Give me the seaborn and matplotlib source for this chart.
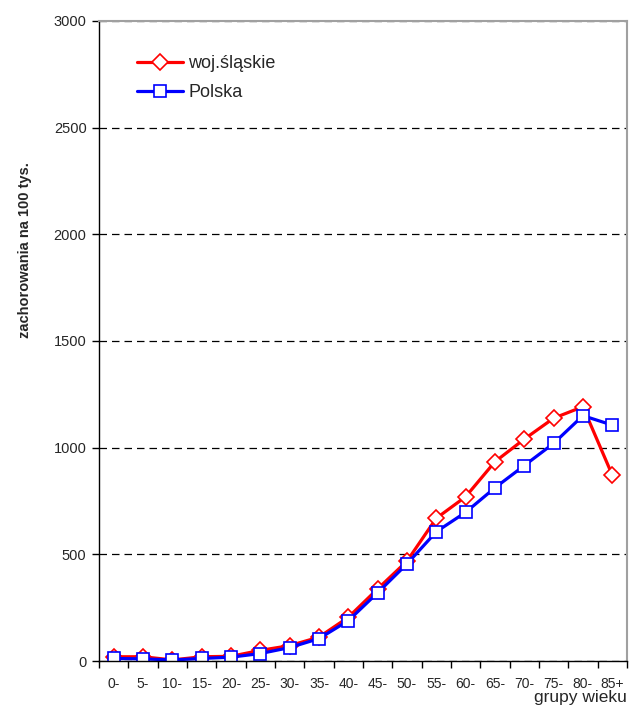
import numpy as np
import pandas as pd
import seaborn as sns
import matplotlib.pyplot as plt
from matplotlib.ticker import FixedLocator

# age groups and incidence per 100k
age_groups = ['0-', '5-', '10-', '15-', '20-', '25-', '30-', '35-', '40-', '45-',
              '50-', '55-', '60-', '65-', '70-', '75-', '80-', '85+']
slaskie = [20, 20, 5, 20, 22, 50, 72, 112, 205, 338, 468, 669, 770, 934, 1040, 1138, 1192, 872]
polska = [12, 10, 5, 12, 18, 35, 63, 105, 189, 320, 455, 606, 697, 812, 916, 1020, 1150, 1106]

sns.set_style('white')
plt.rcParams['font.family'] = ['Liberation Sans', 'DejaVu Sans']

df = pd.DataFrame({'grupa': age_groups, 'slaskie': slaskie, 'polska': polska})

fig = plt.figure(figsize=(6.41, 7.11), dpi=100)
ax = fig.add_axes([0.1545, 0.0703, 0.8235, 0.9002])

sns.lineplot(data=df, x='grupa', y='slaskie', ax=ax, color='#ff0000', lw=2.3,
             marker='D', markersize=8, markerfacecolor='white',
             markeredgecolor='#ff0000', markeredgewidth=1.2, label='woj.śląskie',
             sort=False)
sns.lineplot(data=df, x='grupa', y='polska', ax=ax, color='#0000ff', lw=2.3,
             marker='s', markersize=9, markerfacecolor='white',
             markeredgecolor='#0000ff', markeredgewidth=1.2, label='Polska',
             sort=False)

ax.set_xlim(-0.5, len(age_groups) - 0.5)
ax.set_ylim(0, 3000)
ax.set_yticks(np.arange(0, 3001, 500))
ax.yaxis.grid(True, color='black', linestyle=(0, (6, 4)), lw=0.9)
ax.xaxis.grid(False)

# ticks on category boundaries, labels in centre
ax.set_xticks(range(len(age_groups)))
ax.set_xticklabels(age_groups, fontsize=10)
ax.xaxis.set_minor_locator(FixedLocator(np.arange(-0.5, len(age_groups), 1)))
ax.tick_params(axis='x', which='major', length=0, pad=11.5)
ax.tick_params(axis='x', which='minor', length=5, width=1, color='black', direction='out', bottom=True)
ax.tick_params(axis='y', length=5, width=1, color='black', direction='out', left=True, labelsize=10.5, pad=4)

for side in ['left', 'bottom']:
    ax.spines[side].set_color('black')
    ax.spines[side].set_linewidth(1)
for side in ['top', 'right']:
    ax.spines[side].set_color('#a0a0a0')
    ax.spines[side].set_linewidth(1.5)

ax.set_ylabel('zachorowania na 100 tys.', fontsize=10.5, fontweight='bold')
ax.yaxis.set_label_coords(-0.127, 0.642)
ax.set_xlabel('grupy wieku', fontsize=12.5)
ax.xaxis.set_label_coords(1.0, -0.045)
ax.xaxis.label.set_horizontalalignment('right')

ax.legend(loc='center left', bbox_to_anchor=(0.189, 0.890), bbox_transform=fig.transFigure,
          frameon=False, fontsize=13, handlelength=2.55, handletextpad=0.28,
          labelspacing=0.65)

plt.savefig('out.png', dpi=100)
